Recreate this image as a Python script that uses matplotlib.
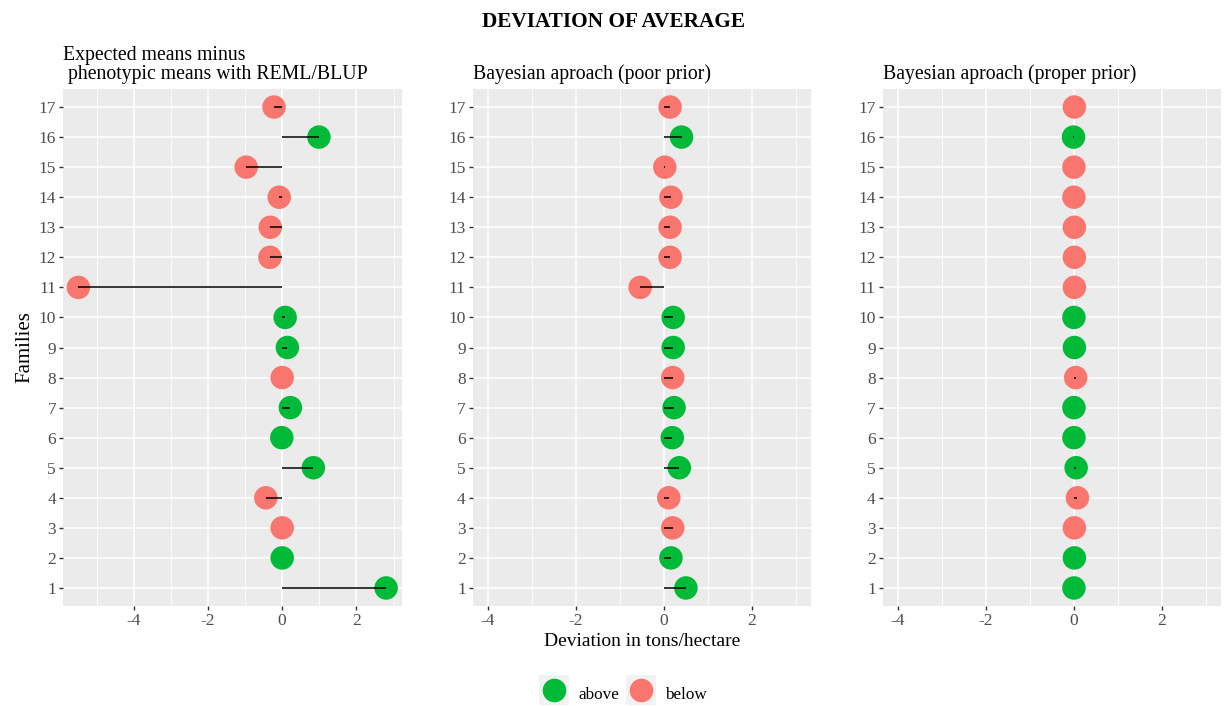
import matplotlib
matplotlib.use("Agg")
import matplotlib.pyplot as plt
from matplotlib.lines import Line2D
from matplotlib.legend_handler import HandlerTuple
from matplotlib.ticker import MultipleLocator

plt.rcParams['font.family'] = ['Liberation Serif', 'DejaVu Serif']
plt.rcParams['axes.unicode_minus'] = False

families = list(range(1, 18))
# group per family (same in all panels), order families 1..17
groups = ["above", "above", "below", "below", "above", "above", "above", "below", "above",
          "above", "below", "below", "below", "below", "below", "above", "below"]

reml = [2.80, 0.00, 0.00, -0.44, 0.84, -0.01, 0.22, 0.00, 0.14,
        0.08, -5.49, -0.33, -0.32, -0.08, -0.97, 0.99, -0.22]
bayes_poor = [0.50, 0.16, 0.20, 0.11, 0.35, 0.19, 0.23, 0.20, 0.21,
              0.21, -0.54, 0.14, 0.14, 0.16, 0.02, 0.40, 0.14]
bayes_proper = [0.00, 0.01, 0.01, 0.08, 0.05, 0.00, 0.00, 0.04, 0.01,
                0.00, 0.01, 0.01, 0.01, 0.00, 0.00, -0.01, 0.01]

titles = ["Expected means minus\n phenotypic means with REML/BLUP",
          "Bayesian aproach (poor prior)",
          "Bayesian aproach (proper prior)"]
xlims = [None, (-4, 3), (-4, 3)]
colors = {"above": "#00BA38", "below": "#F8766D"}

W, H = 1226, 706
fig = plt.figure(figsize=(W / 100, H / 100), dpi=100)
lefts = [63, 472.7, 882.7]
top, bottom, width = 89, 606, 338.5

datasets = [reml, bayes_poor, bayes_proper]
for i, (vals, title, xl) in enumerate(zip(datasets, titles, xlims)):
    ax = fig.add_axes([lefts[i] / W, 1 - bottom / H, width / W, (bottom - top) / H])
    ax.set_facecolor("#EBEBEB")
    for s in ax.spines.values():
        s.set_visible(False)
    cols = [colors[g] for g in groups]
    ax.scatter(vals, families, s=23 ** 2 * 0.54, c=cols, zorder=3, linewidths=0)
    ax.hlines(families, 0, vals, color="black", lw=1.1, zorder=4)
    if xl is None:
        lo, hi = min(vals), max(vals)
    else:
        lo, hi = xl
    pad = 0.05 * (hi - lo)
    ax.set_xlim(lo - pad, hi + pad)
    ax.set_ylim(0.4, 17.6)
    ax.xaxis.set_major_locator(MultipleLocator(2))
    ax.xaxis.set_minor_locator(MultipleLocator(1))
    ax.set_yticks(families)
    ax.set_yticklabels([str(f) for f in families])
    ax.grid(which="major", color="white", lw=1.1, zorder=0)
    ax.grid(which="minor", axis="x", color="white", lw=0.55, zorder=0)
    ax.set_axisbelow(True)
    ax.tick_params(which="major", length=3, width=1, color="#333333",
                   labelcolor="#4D4D4D", labelsize=12.5, pad=2)
    ax.tick_params(which="minor", length=0)
    ax.set_title(title, loc="left", fontsize=14.2, pad=7, linespacing=1.05)
    if i == 0:
        ax.set_ylabel("Families", fontsize=15, labelpad=3)
    if i == 1:
        ax.set_xlabel("Deviation in tons/hectare", fontsize=14, labelpad=3)

fig.text(0.5, 1 - 22 / H, "DEVIATION OF AVERAGE", ha="center", va="center",
         fontsize=15.3, fontweight="bold")

handles = []
for g in ["above", "below"]:
    bg = Line2D([], [], marker="s", ls="", markersize=21, markerfacecolor="#F2F2F2",
                markeredgewidth=0)
    mk = Line2D([], [], marker="o", ls="", markersize=17, markerfacecolor=colors[g],
                markeredgewidth=0)
    handles.append((bg, mk))
fig.legend(handles=handles, labels=["above", "below"], loc="center",
           bbox_to_anchor=(623 / W, 1 - 693 / H),
           handler_map={tuple: HandlerTuple(ndivide=1, pad=0)},
           ncol=2, frameon=False, fontsize=12.3, handlelength=1.7, handleheight=1.7,
           handletextpad=0.6, columnspacing=0.4)

fig.savefig("out.png", dpi=100)
